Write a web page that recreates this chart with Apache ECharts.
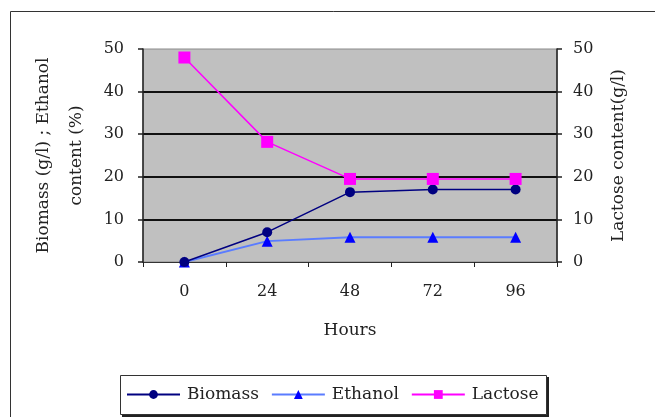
<!DOCTYPE html>
<html>
<head>
<meta charset="utf-8">
<script src="https://cdn.jsdelivr.net/npm/echarts@6/dist/echarts.min.js"></script>
<style>html,body{margin:0;padding:0;background:#fff}#c{width:655px;height:417px}</style>
</head>
<body>
<div id="c"></div>
<script>
const hours = ['0', '24', '48', '72', '96'];
const biomass = [0, 7, 16.4, 17, 17];
const ethanol = [0, 4.9, 5.8, 5.8, 5.8];
const lactose = [48, 28.2, 19.5, 19.5, 19.5];
const yTicksMax = 50;

const font = 'DejaVu Serif';
const chart = echarts.init(document.getElementById('c'), null, {renderer: 'canvas'});
chart.setOption({
  animation: false,
  backgroundColor: '#fff',
  graphic: [
    {type: 'rect', shape: {x: 10.5, y: 11.5, width: 700, height: 500}, style: {fill: 'none', stroke: '#333', lineWidth: 1}, z: 0},
    {type: 'rect', shape: {x: 122, y: 377, width: 427, height: 40}, style: {fill: '#222'}, z: 0},
    {type: 'rect', shape: {x: 120.5, y: 375.5, width: 426, height: 39}, style: {fill: '#fff', stroke: '#333', lineWidth: 1}, z: 1}
  ],
  grid: {left: 143, right: 98, top: 49, bottom: 155, show: true, backgroundColor: '#c0c0c0', borderColor: '#8a8a8a', borderWidth: 1, containLabel: false},
  legend: {
    left: 121, top: 381, itemWidth: 53, itemHeight: 11, itemGap: 12,
    textStyle: {fontFamily: font, fontSize: 17, color: '#222', padding: [0, 0, 0, 2]},
    data: ['Biomass', 'Ethanol', 'Lactose'], z: 5
  },
  xAxis: {
    type: 'category', data: hours, boundaryGap: true,
    name: 'Hours', nameLocation: 'middle', nameGap: 60,
    nameTextStyle: {fontFamily: font, fontSize: 17, color: '#222'},
    axisLine: {lineStyle: {color: '#333', width: 1}},
    axisTick: {show: true, alignWithLabel: false, length: 5, lineStyle: {color: '#222'}},
    axisLabel: {fontFamily: font, fontSize: 16, color: '#222', margin: 22},
    splitLine: {show: false}
  },
  yAxis: [
    {
      type: 'value', min: 0, max: yTicksMax, interval: 10,
      name: 'Biomass (g/l) ; Ethanol\ncontent (%)', nameLocation: 'middle', nameGap: 44, nameRotate: 90,
      nameTextStyle: {fontFamily: font, fontSize: 17, color: '#222', lineHeight: 33},
      axisLine: {show: true, lineStyle: {color: '#222', width: 1.5}},
      axisTick: {show: true, length: 5, lineStyle: {color: '#222', width: 1.5}},
      axisLabel: {fontFamily: font, fontSize: 16, color: '#222', margin: 19},
      splitLine: {show: true, showMinLine: false, showMaxLine: false, lineStyle: {color: '#111', width: 2}}
    },
    {
      type: 'value', min: 0, max: yTicksMax, interval: 10, position: 'right',
      name: 'Lactose content(g/l)', nameLocation: 'middle', nameGap: 53, nameRotate: 90,
      nameTextStyle: {fontFamily: font, fontSize: 17, color: '#222'},
      axisLine: {show: true, lineStyle: {color: '#222', width: 1.5}},
      axisTick: {show: true, length: 5, lineStyle: {color: '#222', width: 1.5}},
      axisLabel: {fontFamily: font, fontSize: 16, color: '#222', margin: 16},
      splitLine: {show: false}
    }
  ],
  series: [
    {name: 'Biomass', type: 'line', data: biomass, yAxisIndex: 0, symbol: 'circle', symbolSize: 10,
     lineStyle: {color: '#000080', width: 1.5}, itemStyle: {color: '#000080'}, z: 3},
    {name: 'Ethanol', type: 'line', data: ethanol, yAxisIndex: 0, symbol: 'triangle', symbolSize: 11,
     lineStyle: {color: '#5a7cff', width: 2}, itemStyle: {color: '#0000ff'}, z: 2},
    {name: 'Lactose', type: 'line', data: lactose, yAxisIndex: 1, symbol: 'rect', symbolSize: 12,
     lineStyle: {color: '#ff00ff', width: 1.5}, itemStyle: {color: '#ff00ff'}, z: 4}
  ]
});
</script>
</body>
</html>
